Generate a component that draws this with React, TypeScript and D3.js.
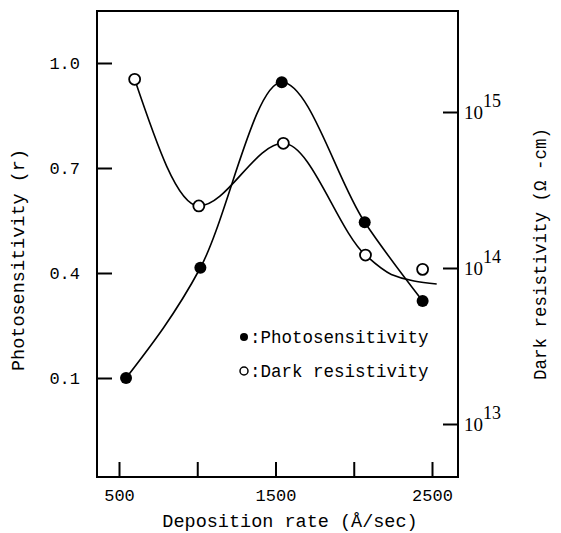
import { useRef, useEffect } from 'react';
import * as d3 from 'd3';

// measured points (filled = photosensitivity, open = dark resistivity)
const photoRate = [545, 1020, 1540, 2070, 2440];
const photosensitivity = [0.1, 0.415, 0.945, 0.545, 0.32];
const darkRate = [600, 1010, 1550, 2075, 2440];
const darkResistivity = [1.62e15, 2.5e14, 6.3e14, 1.21e14, 9.8e13];

// hand-drawn fit through the dark resistivity data
const darkFitRate = [600, 1010, 1550, 2075, 2240, 2530];
const darkFitValue = [1.62e15, 2.5e14, 6.3e14, 1.21e14, 9.1e13, 7.9e13];

// ticks
const xTicks = [500, 1000, 1500, 2000, 2500];
const xLabels = [500, 1500, 2500];
const leftTicks = [0.1, 0.4, 0.7, 1.0];
const rightTicks = [1e13, 1e14, 1e15];

function App() {

    const svgRef = useRef<SVGSVGElement>(null);

    useEffect(() => {
        const width = 561;
        const height = 533;
        const frame = { left: 97, right: 458, top: 11, bottom: 477 };
        const mono = "'Liberation Mono', 'DejaVu Sans Mono', monospace";

        if (!svgRef.current) return;
        const svg = d3.select(svgRef.current)
            .attr("width", width)
            .attr("height", height);

        //Clear previous content
        svg.selectAll("*").remove();

        svg.append("rect")
            .attr("width", width)
            .attr("height", height)
            .attr("fill", "#fff");

        //Scales
        const x = d3.scaleLinear().domain([500, 2500]).range([119, 432]);
        const yL = d3.scaleLinear().domain([0.1, 1.0]).range([378, 63]);
        const yR = d3.scaleLog().domain([1e13, 1e15]).range([424, 112]);

        //Frame
        svg.append("rect")
            .attr("x", frame.left)
            .attr("y", frame.top)
            .attr("width", frame.right - frame.left)
            .attr("height", frame.bottom - frame.top)
            .attr("fill", "none")
            .attr("stroke", "#000")
            .attr("stroke-width", 2);

        //Bottom axis, ticks pointing inward
        const xAxis = svg.append("g")
            .attr("transform", `translate(0,${frame.bottom})`)
            .call(d3.axisBottom(x)
                .tickValues(xTicks)
                .tickSize(-15)
                .tickPadding(12)
                .tickFormat(d => xLabels.includes(+d) ? String(d) : ""));
        xAxis.select(".domain").remove();

        //Left axis
        const leftAxis = svg.append("g")
            .attr("transform", `translate(${frame.left},0)`)
            .call(d3.axisLeft(yL)
                .tickValues(leftTicks)
                .tickSize(-15)
                .tickPadding(17)
                .tickFormat(d3.format(".1f")));
        leftAxis.select(".domain").remove();

        //Right axis, labels as 10 with superscript
        const rightAxis = svg.append("g")
            .attr("transform", `translate(${frame.right},0)`)
            .call(d3.axisRight(yR)
                .tickValues(rightTicks)
                .tickSize(-15)
                .tickFormat(() => ""));
        rightAxis.select(".domain").remove();

        [xAxis, leftAxis, rightAxis].forEach(a => {
            a.selectAll("line").attr("stroke", "#000").attr("stroke-width", 2);
            a.selectAll("text")
                .attr("fill", "#000")
                .attr("font-family", mono)
                .attr("font-size", 17);
        });

        rightTicks.forEach(v => {
            const t = svg.append("text")
                .attr("x", frame.right + 6)
                .attr("y", yR(v) + 7)
                .attr("font-family", "'Liberation Serif', serif")
                .attr("font-size", 19)
                .attr("fill", "#000")
                .text("10");
            t.append("tspan")
                .attr("dy", -12)
                .attr("font-size", 18)
                .text(String(Math.round(Math.log10(v))));
        });

        //Curves
        const photoPts: [number, number][] = photoRate.map((r, i) => [x(r), yL(photosensitivity[i])]);
        const darkPts: [number, number][] = darkRate.map((r, i) => [x(r), yR(darkResistivity[i])]);
        const fitPts: [number, number][] = darkFitRate.map((r, i) => [x(r), yR(darkFitValue[i])]);

        const line = d3.line().curve(d3.curveMonotoneX);

        svg.append("path")
            .attr("d", line(photoPts))
            .attr("fill", "none")
            .attr("stroke", "#000")
            .attr("stroke-width", 1.6);

        svg.append("path")
            .attr("d", line(fitPts))
            .attr("fill", "none")
            .attr("stroke", "#000")
            .attr("stroke-width", 1.6);

        //Markers
        svg.append("g").selectAll("circle")
            .data(darkPts)
            .join("circle")
            .attr("cx", d => d[0])
            .attr("cy", d => d[1])
            .attr("r", 5.5)
            .attr("fill", "#fff")
            .attr("stroke", "#000")
            .attr("stroke-width", 1.8);

        svg.append("g").selectAll("circle")
            .data(photoPts)
            .join("circle")
            .attr("cx", d => d[0])
            .attr("cy", d => d[1])
            .attr("r", 6)
            .attr("fill", "#000");

        //Legend
        const legend = svg.append("g")
            .attr("font-family", mono)
            .attr("font-size", 17.5)
            .attr("fill", "#000");
        legend.append("circle").attr("cx", 244).attr("cy", 337).attr("r", 4).attr("fill", "#000");
        legend.append("text").attr("x", 250).attr("y", 343).text(":Photosensitivity");
        legend.append("circle").attr("cx", 244).attr("cy", 371).attr("r", 4)
            .attr("fill", "#fff").attr("stroke", "#000").attr("stroke-width", 1.5);
        legend.append("text").attr("x", 250).attr("y", 377).text(":Dark resistivity");

        //Axis titles
        svg.append("text")
            .attr("x", 290)
            .attr("y", 527)
            .attr("text-anchor", "middle")
            .attr("font-family", mono)
            .attr("font-size", 18.5)
            .attr("fill", "#000")
            .text("Deposition rate (Å/sec)");

        svg.append("text")
            .attr("transform", "translate(24,260) rotate(-90)")
            .attr("text-anchor", "middle")
            .attr("font-family", mono)
            .attr("font-size", 18.5)
            .attr("fill", "#000")
            .text("Photosensitivity (r)");

        svg.append("text")
            .attr("transform", "translate(546,254) rotate(-90)")
            .attr("text-anchor", "middle")
            .attr("font-family", mono)
            .attr("font-size", 17.5)
            .attr("fill", "#000")
            .text("Dark resistivity (Ω -cm)");
    }, []);

    return <svg ref={svgRef} style={{ position: "absolute", left: 0, top: 0 }} />;
}

export default App;
